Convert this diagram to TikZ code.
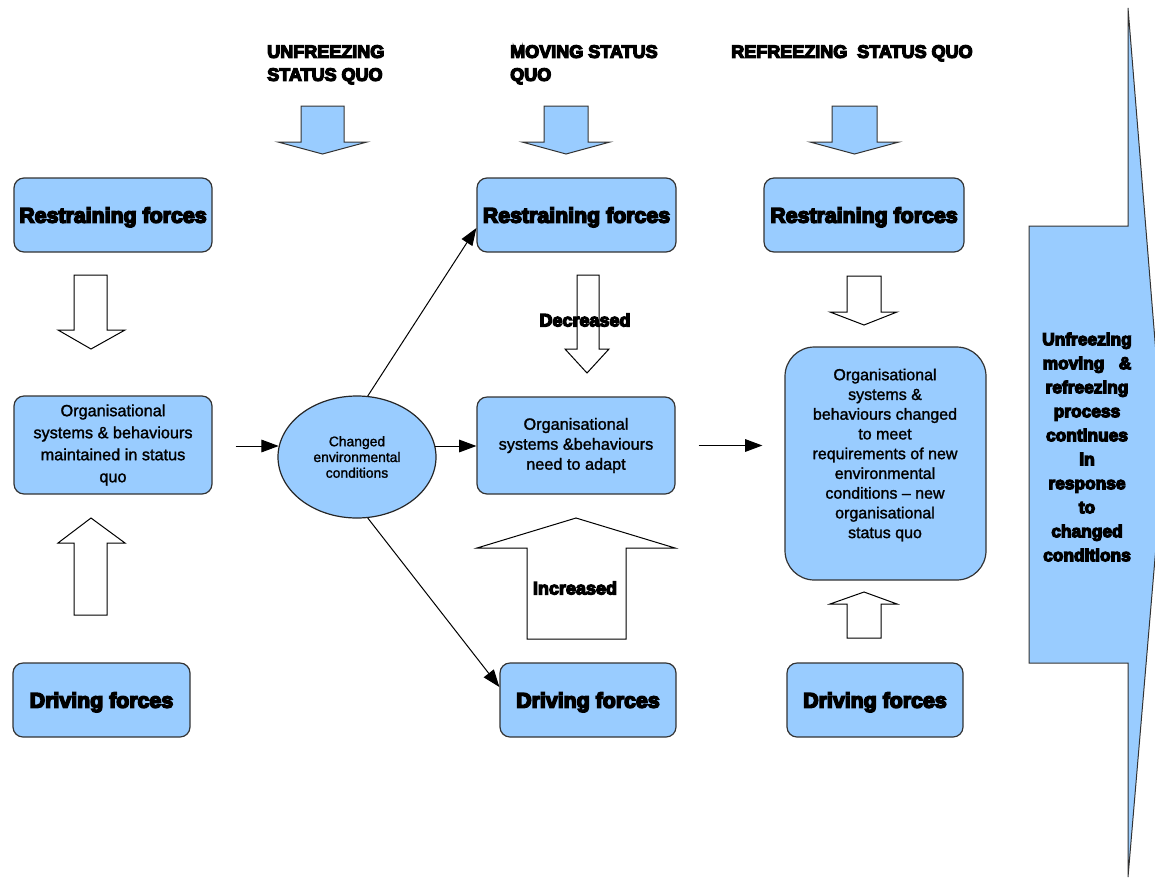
\documentclass[tikz,border=0pt]{standalone}
\usepackage{fontspec}
\setmainfont{Liberation Sans}
\newfontfamily\heavyfont{Liberation Sans Bold}[FakeBold=7]
\newfontfamily\bodyfont{Liberation Sans}[FakeBold=1.5]
\usetikzlibrary{arrows.meta,shapes.geometric}
\definecolor{skyblue}{HTML}{99CCFF}

\begin{document}
\begin{tikzpicture}[x=0.75pt,y=-0.75pt,
  box/.style={draw=black!80, line width=0.9pt, fill=skyblue, rounded corners=7.5pt,
    inner sep=0pt, align=center},
  forcebox/.style={box, minimum height=55.5pt, text depth=0pt,
    font=\heavyfont\fontsize{16pt}{19pt}\selectfont},
  orgbox/.style={box, font=\bodyfont\fontsize{12.2pt}{16.5pt}\selectfont},
  heading/.style={anchor=north west, inner sep=0pt, align=left,
    font=\heavyfont\fontsize{13.5pt}{17.25pt}\selectfont},
  tag/.style={inner sep=0pt, font=\heavyfont\fontsize{13.5pt}{16pt}\selectfont},
  conn/.style={draw=black, line width=0.75pt, -{Triangle[length=13pt,width=9.5pt]}},
  hollowarrow/.style={draw=black, line width=0.75pt, fill=white, line join=miter},
  bluearrow/.style={draw=black!80, line width=0.75pt, fill=skyblue, line join=miter}]

\useasboundingbox (0,0) rectangle (1155,879);

% phase headings
\node[heading] (h1) at (267,45) {UNFREEZING\\STATUS QUO};
\node[heading] (h2) at (510,45) {MOVING STATUS\\QUO};
\node[heading] (h3) at (731,45) {REFREEZING\ \ STATUS QUO};

% blue arrows under the headings
\draw[bluearrow] (301,106) -- (344,106) -- (344,142) -- (367,142) -- (322.5,154) -- (278,142) -- (301,142) -- cycle;
\draw[bluearrow] (544,106) -- (588,106) -- (588,142) -- (610,142) -- (566,154) -- (522,142) -- (544,142) -- cycle;
\draw[bluearrow] (832,106) -- (877,106) -- (877,142) -- (899,142) -- (854.5,154) -- (810,142) -- (832,142) -- cycle;

% force arrows, first column
\draw[hollowarrow] (74,275) -- (107,275) -- (107,330) -- (125,330) -- (91,349) -- (58,330) -- (74,330) -- cycle;
\draw[hollowarrow] (74,615) -- (107,615) -- (107,543) -- (125,543) -- (91,518) -- (58,543) -- (74,543) -- cycle;

% force arrows, second column
\draw[hollowarrow] (577,275) -- (599,275) -- (599,349) -- (609,349) -- (587,373) -- (565,349) -- (577,349) -- cycle;
\draw[hollowarrow] (527,639) -- (626,639) -- (626,548) -- (675,548) -- (576,518) -- (477,548) -- (527,548) -- cycle;

% force arrows, third column
\draw[hollowarrow] (847,276) -- (881,276) -- (881,312) -- (897,312) -- (864,325) -- (830,312) -- (847,312) -- cycle;
\draw[hollowarrow] (847,638) -- (881,638) -- (881,604) -- (897,604) -- (864,592) -- (830,604) -- (847,604) -- cycle;

% large process arrow on the right
\draw[bluearrow] (1029,226) -- (1128,226) -- (1128,8) -- (1164,452) -- (1128,877) -- (1128,663) -- (1029,663) -- cycle;
\node[inner sep=0pt, align=center, font=\heavyfont\fontsize{13pt}{18pt}\selectfont] (cycle) at (1087,447)
  {Unfreezing\\moving\ \ \ \&\\refreezing\\process\\continues\\in\\response\\to\\changed\\conditions};

% boxes
\node[forcebox, minimum width=148.5pt] (rL) at (113,215) {Restraining forces};
\node[forcebox, minimum width=149.25pt] (rM) at (576.5,215) {Restraining forces};
\node[forcebox, minimum width=150pt] (rR) at (864,215) {Restraining forces};

\node[orgbox, minimum width=148.5pt, minimum height=73.5pt] (oL) at (113,445)
  {Organisational\\systems \& behaviours\\maintained in status\\quo};
\node[orgbox, minimum width=148.5pt, minimum height=72.75pt,
  font=\bodyfont\fontsize{12.2pt}{15pt}\selectfont] (oM) at (576,445.5)
  {Organisational\\systems \&behaviours\\need to adapt};
\node[box, rounded corners=22pt, minimum width=150.75pt, minimum height=174.75pt] (oR) at (885.5,463.5) {};
\node[inner sep=0pt, align=center, font=\bodyfont\fontsize{12pt}{14.8pt}\selectfont] (oRtext) at (885,455)
  {Organisational\\systems \&\\behaviours changed\\to meet\\requirements of new\\environmental\\conditions – new\\organisational\\status quo};

\node[forcebox, minimum width=132.75pt] (dL) at (101.5,700) {Driving forces};
\node[forcebox, minimum width=132pt] (dM) at (588,700) {Driving forces};
\node[forcebox, minimum width=132pt] (dR) at (875,700) {Driving forces};

\node[ellipse, draw=black!85, line width=0.9pt, fill=skyblue, minimum width=118.5pt, minimum height=91.5pt,
  inner sep=0pt, align=center, font=\bodyfont\fontsize{10.4pt}{11.8pt}\selectfont] (ell) at (357,457)
  {Changed\\environmental\\conditions};

% labels on the force arrows
\node[tag] (dec) at (585,320) {Decreased};
\node[tag] (inc) at (575,588) {Increased};

% connectors
\draw[conn] (ell.172 -| oL.east) ++(17.25pt,0) -- (ell.172);
\draw[conn] (ell.8) -- (ell.8 -| oM.west);
\draw[conn] (ell.80) -- ([yshift=-9.75pt]rM.west);
\draw[conn] (ell.-80) -- ([yshift=9.75pt]dM.west);
\draw[conn] ([xshift=17.25pt]oM.east) -- ([xshift=-16.5pt]oR.west |- oM.east);

\end{tikzpicture}
\end{document}
